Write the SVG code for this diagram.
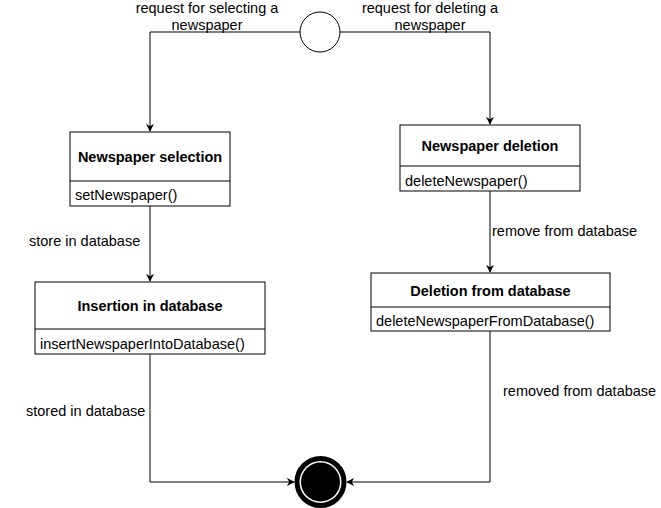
<svg xmlns="http://www.w3.org/2000/svg" width="661" height="508" viewBox="0 0 661 508">
<defs>
<style>
.box{fill:#fff;stroke:#000;stroke-width:1}
.div{stroke:#000;stroke-width:1}
.t{font-family:"Liberation Sans",Arial,sans-serif;font-size:14.5px;fill:#000}
.b{font-weight:bold;text-anchor:middle}
.c{text-anchor:middle}
.e{fill:none;stroke:#000;stroke-width:1}
</style>
<marker id="arr" viewBox="0 0 10 10" refX="9" refY="5" markerWidth="8" markerHeight="8" markerUnits="userSpaceOnUse" orient="auto">
<path d="M0,0 L10,5 L0,10 L3,5 Z" fill="#000"/>
</marker>
</defs>
<rect width="661" height="508" fill="#fff"/>
<g id="connectors">
<path class="e" d="M300,32 H150 V131" marker-end="url(#arr)"/>
<path class="e" d="M340,32 H490 V124" marker-end="url(#arr)"/>
<path class="e" d="M150,206 V281" marker-end="url(#arr)"/>
<path class="e" d="M490,191 V272" marker-end="url(#arr)"/>
<path class="e" d="M150,354 V482 H294" marker-end="url(#arr)"/>
<path class="e" d="M490,331 V482 H347" marker-end="url(#arr)"/>
<text class="t c" x="207" y="13">request for selecting a</text>
<text class="t c" x="207" y="30">newspaper</text>
<text class="t c" x="430" y="13">request for deleting a</text>
<text class="t c" x="430" y="30">newspaper</text>
<text class="t" x="29" y="246">store in database</text>
<text class="t" x="492" y="236">remove from database</text>
<text class="t" x="26" y="416">stored in database</text>
<text class="t" x="503" y="396">removed from database</text>
</g>
<g id="start">
<circle cx="320" cy="32" r="20" fill="#fff" stroke="#000" stroke-width="1"/>
</g>
<g id="newspaper-selection">
<rect class="box" x="70" y="132" width="160" height="74"/>
<line class="div" x1="70" y1="181" x2="230" y2="181"/>
<text class="t b" x="150" y="162">Newspaper selection</text>
<text class="t" x="75" y="200">setNewspaper()</text>
</g>
<g id="insertion-in-database">
<rect class="box" x="35" y="282" width="230" height="72"/>
<line class="div" x1="35" y1="329" x2="265" y2="329"/>
<text class="t b" x="150" y="311">Insertion in database</text>
<text class="t" x="40" y="349">insertNewspaperIntoDatabase()</text>
</g>
<g id="newspaper-deletion">
<rect class="box" x="400" y="125" width="180" height="66"/>
<line class="div" x1="400" y1="166" x2="580" y2="166"/>
<text class="t b" x="490" y="151">Newspaper deletion</text>
<text class="t" x="405" y="186">deleteNewspaper()</text>
</g>
<g id="deletion-from-database">
<rect class="box" x="371" y="273" width="239" height="58"/>
<line class="div" x1="371" y1="307" x2="610" y2="307"/>
<text class="t b" x="490.5" y="296">Deletion from database</text>
<text class="t" x="376" y="326">deleteNewspaperFromDatabase()</text>
</g>
<g id="end">
<circle cx="320.5" cy="482" r="23.5" fill="#fff" stroke="#000" stroke-width="5"/>
<circle cx="320.5" cy="482" r="19.5" fill="#000"/>
</g>
</svg>
